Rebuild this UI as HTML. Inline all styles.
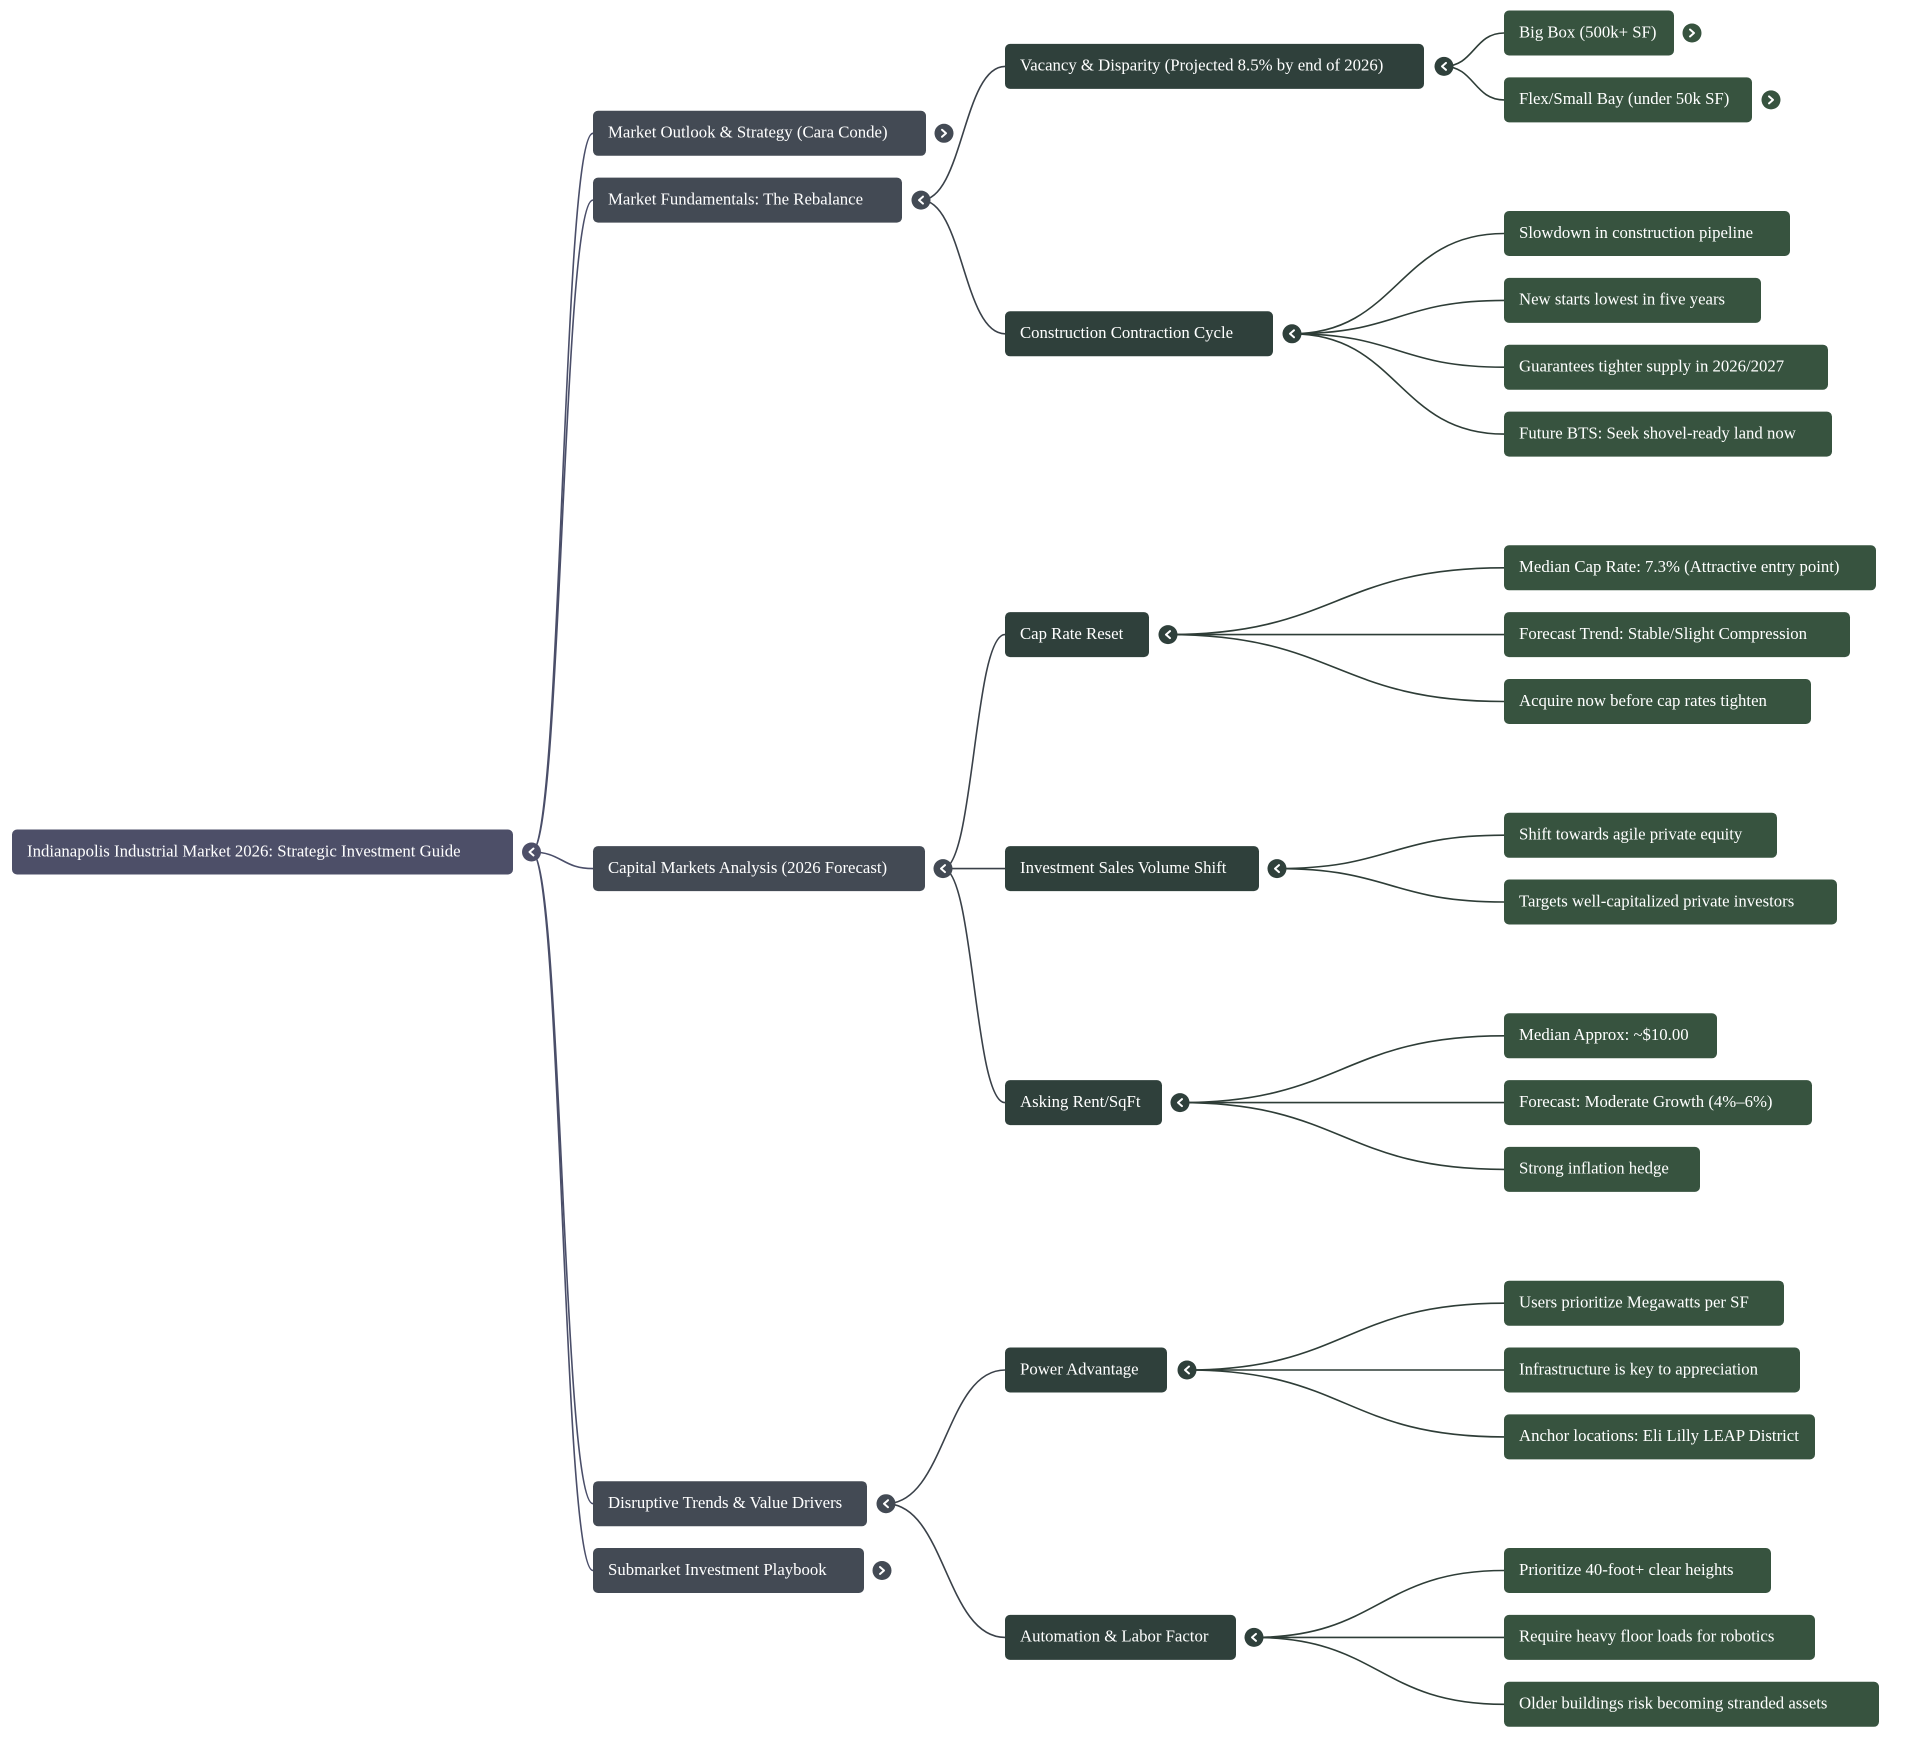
<!DOCTYPE html>
<html>
<head>
<meta charset="utf-8">
<style>
  html,body{margin:0;padding:0;background:#ffffff;}
  body{width:1920px;height:1738px;overflow:hidden;}
  svg{display:block;}
  text{font-family:"Liberation Serif","Times New Roman",serif;font-size:16.75px;fill:#ffffff;}
  .l0{fill:none;stroke:#4a4e69;stroke-width:1.6;}
  .l1{fill:none;stroke:#3a4149;stroke-width:1.6;}
  .l2{fill:none;stroke:#2e3d37;stroke-width:1.6;}
  .chev{fill:none;stroke:#ffffff;stroke-width:2;stroke-linecap:round;stroke-linejoin:round;}
</style>
</head>
<body>
<svg width="1920" height="1738" viewBox="0 0 1920 1738" xmlns="http://www.w3.org/2000/svg">
  <!-- Links root -> level 1 -->
  <path class="l0" d="M531.5 852 C562 852,562 133.3,593 133.3"/>
  <path class="l0" d="M531.5 852 C562 852,562 200.1,593 200.1"/>
  <path class="l0" d="M531.5 852 C562 852,562 868.6,593 868.6"/>
  <path class="l0" d="M531.5 852 C562 852,562 1503.7,593 1503.7"/>
  <path class="l0" d="M531.5 852 C562 852,562 1570.5,593 1570.5"/>

  <!-- Links level 1 -> level 2 -->
  <path class="l1" d="M921 200.1 C963 200.1,963 66.4,1005 66.4"/>
  <path class="l1" d="M921 200.1 C963 200.1,963 333.8,1005 333.8"/>
  <path class="l1" d="M943 868.6 C974 868.6,974 634.6,1005 634.6"/>
  <path class="l1" d="M943 868.6 C974 868.6,974 868.6,1005 868.6"/>
  <path class="l1" d="M943 868.6 C974 868.6,974 1102.6,1005 1102.6"/>
  <path class="l1" d="M886 1503.7 C945.5 1503.7,945.5 1370,1005 1370"/>
  <path class="l1" d="M886 1503.7 C945.5 1503.7,945.5 1637.4,1005 1637.4"/>

  <!-- Links level 2 -> level 3 -->
  <path class="l2" d="M1444 66.4 C1474 66.4,1474 33,1504 33"/>
  <path class="l2" d="M1444 66.4 C1474 66.4,1474 99.9,1504 99.9"/>

  <path class="l2" d="M1292 333.8 C1398 333.8,1398 233.5,1504 233.5"/>
  <path class="l2" d="M1292 333.8 C1398 333.8,1398 300.4,1504 300.4"/>
  <path class="l2" d="M1292 333.8 C1398 333.8,1398 367.2,1504 367.2"/>
  <path class="l2" d="M1292 333.8 C1398 333.8,1398 434.1,1504 434.1"/>

  <path class="l2" d="M1168 634.6 C1336 634.6,1336 567.8,1504 567.8"/>
  <path class="l2" d="M1168 634.6 C1336 634.6,1336 634.6,1504 634.6"/>
  <path class="l2" d="M1168 634.6 C1336 634.6,1336 701.5,1504 701.5"/>

  <path class="l2" d="M1277 868.6 C1390.5 868.6,1390.5 835.2,1504 835.2"/>
  <path class="l2" d="M1277 868.6 C1390.5 868.6,1390.5 902,1504 902"/>

  <path class="l2" d="M1180 1102.6 C1342 1102.6,1342 1035.8,1504 1035.8"/>
  <path class="l2" d="M1180 1102.6 C1342 1102.6,1342 1102.6,1504 1102.6"/>
  <path class="l2" d="M1180 1102.6 C1342 1102.6,1342 1169.4,1504 1169.4"/>

  <path class="l2" d="M1187 1370 C1345.5 1370,1345.5 1303.2,1504 1303.2"/>
  <path class="l2" d="M1187 1370 C1345.5 1370,1345.5 1370,1504 1370"/>
  <path class="l2" d="M1187 1370 C1345.5 1370,1345.5 1436.9,1504 1436.9"/>

  <path class="l2" d="M1254 1637.4 C1379 1637.4,1379 1570.5,1504 1570.5"/>
  <path class="l2" d="M1254 1637.4 C1379 1637.4,1379 1637.4,1504 1637.4"/>
  <path class="l2" d="M1254 1637.4 C1379 1637.4,1379 1704.3,1504 1704.3"/>

  <!-- Root -->
  <rect x="12" y="829.5" width="501" height="45" rx="5" fill="#4d4f68"/>
  <text x="27" y="856.3">Indianapolis Industrial Market 2026: Strategic Investment Guide</text>
  <circle cx="531.5" cy="852" r="9.5" fill="#4d4f68"/>
  <polyline class="chev" points="533.5,848.5 529.5,852 533.5,855.5"/>

  <!-- Level 1 -->
  <rect x="593" y="110.8" width="333" height="45" rx="5" fill="#434a54"/>
  <text x="608" y="137.6">Market Outlook &amp; Strategy (Cara Conde)</text>
  <circle cx="944" cy="133.3" r="9.5" fill="#434a54"/>
  <polyline class="chev" points="942,129.8 946,133.3 942,136.8"/>

  <rect x="593" y="177.6" width="309" height="45" rx="5" fill="#434a54"/>
  <text x="608" y="204.4">Market Fundamentals: The Rebalance</text>
  <circle cx="921" cy="200.1" r="9.5" fill="#434a54"/>
  <polyline class="chev" points="923,196.6 919,200.1 923,203.6"/>

  <rect x="593" y="846.1" width="332" height="45" rx="5" fill="#434a54"/>
  <text x="608" y="872.9">Capital Markets Analysis (2026 Forecast)</text>
  <circle cx="943" cy="868.6" r="9.5" fill="#434a54"/>
  <polyline class="chev" points="945,865.1 941,868.6 945,872.1"/>

  <rect x="593" y="1481.2" width="274" height="45" rx="5" fill="#434a54"/>
  <text x="608" y="1508">Disruptive Trends &amp; Value Drivers</text>
  <circle cx="886" cy="1503.7" r="9.5" fill="#434a54"/>
  <polyline class="chev" points="888,1500.2 884,1503.7 888,1507.2"/>

  <rect x="593" y="1548" width="271" height="45" rx="5" fill="#434a54"/>
  <text x="608" y="1574.8">Submarket Investment Playbook</text>
  <circle cx="882" cy="1570.5" r="9.5" fill="#434a54"/>
  <polyline class="chev" points="880,1567 884,1570.5 880,1574"/>

  <!-- Level 2 -->
  <rect x="1005" y="43.9" width="419" height="45" rx="5" fill="#2f403b"/>
  <text x="1020" y="70.7">Vacancy &amp; Disparity (Projected 8.5% by end of 2026)</text>
  <circle cx="1444" cy="66.4" r="9.5" fill="#2f403b"/>
  <polyline class="chev" points="1446,62.9 1442,66.4 1446,69.9"/>

  <rect x="1005" y="311.3" width="268" height="45" rx="5" fill="#2f403b"/>
  <text x="1020" y="338.1">Construction Contraction Cycle</text>
  <circle cx="1292" cy="333.8" r="9.5" fill="#2f403b"/>
  <polyline class="chev" points="1294,330.3 1290,333.8 1294,337.3"/>

  <rect x="1005" y="612.1" width="144" height="45" rx="5" fill="#2f403b"/>
  <text x="1020" y="638.9">Cap Rate Reset</text>
  <circle cx="1168" cy="634.6" r="9.5" fill="#2f403b"/>
  <polyline class="chev" points="1170,631.1 1166,634.6 1170,638.1"/>

  <rect x="1005" y="846.1" width="254" height="45" rx="5" fill="#2f403b"/>
  <text x="1020" y="872.9">Investment Sales Volume Shift</text>
  <circle cx="1277" cy="868.6" r="9.5" fill="#2f403b"/>
  <polyline class="chev" points="1279,865.1 1275,868.6 1279,872.1"/>

  <rect x="1005" y="1080.1" width="157" height="45" rx="5" fill="#2f403b"/>
  <text x="1020" y="1106.9">Asking Rent/SqFt</text>
  <circle cx="1180" cy="1102.6" r="9.5" fill="#2f403b"/>
  <polyline class="chev" points="1182,1099.1 1178,1102.6 1182,1106.1"/>

  <rect x="1005" y="1347.5" width="162" height="45" rx="5" fill="#2f403b"/>
  <text x="1020" y="1374.3">Power Advantage</text>
  <circle cx="1187" cy="1370" r="9.5" fill="#2f403b"/>
  <polyline class="chev" points="1189,1366.5 1185,1370 1189,1373.5"/>

  <rect x="1005" y="1614.9" width="231" height="45" rx="5" fill="#2f403b"/>
  <text x="1020" y="1641.7">Automation &amp; Labor Factor</text>
  <circle cx="1254" cy="1637.4" r="9.5" fill="#2f403b"/>
  <polyline class="chev" points="1256,1633.9 1252,1637.4 1256,1640.9"/>

  <!-- Level 3 -->
  <g fill="#37533f">
    <rect x="1504" y="10.5" width="170" height="45" rx="5"/>
    <rect x="1504" y="77.4" width="248" height="45" rx="5"/>
    <rect x="1504" y="211" width="286" height="45" rx="5"/>
    <rect x="1504" y="277.9" width="257" height="45" rx="5"/>
    <rect x="1504" y="344.7" width="324" height="45" rx="5"/>
    <rect x="1504" y="411.6" width="328" height="45" rx="5"/>
    <rect x="1504" y="545.3" width="372" height="45" rx="5"/>
    <rect x="1504" y="612.1" width="346" height="45" rx="5"/>
    <rect x="1504" y="679" width="307" height="45" rx="5"/>
    <rect x="1504" y="812.7" width="273" height="45" rx="5"/>
    <rect x="1504" y="879.5" width="333" height="45" rx="5"/>
    <rect x="1504" y="1013.3" width="213" height="45" rx="5"/>
    <rect x="1504" y="1080.1" width="308" height="45" rx="5"/>
    <rect x="1504" y="1146.9" width="196" height="45" rx="5"/>
    <rect x="1504" y="1280.7" width="280" height="45" rx="5"/>
    <rect x="1504" y="1347.5" width="296" height="45" rx="5"/>
    <rect x="1504" y="1414.4" width="311" height="45" rx="5"/>
    <rect x="1504" y="1548" width="267" height="45" rx="5"/>
    <rect x="1504" y="1614.9" width="311" height="45" rx="5"/>
    <rect x="1504" y="1681.8" width="375" height="45" rx="5"/>
  </g>
  <text x="1519" y="37.3">Big Box (500k+ SF)</text>
  <text x="1519" y="104.2">Flex/Small Bay (under 50k SF)</text>
  <text x="1519" y="237.8">Slowdown in construction pipeline</text>
  <text x="1519" y="304.7">New starts lowest in five years</text>
  <text x="1519" y="371.5">Guarantees tighter supply in 2026/2027</text>
  <text x="1519" y="438.4">Future BTS: Seek shovel-ready land now</text>
  <text x="1519" y="572.1">Median Cap Rate: 7.3% (Attractive entry point)</text>
  <text x="1519" y="638.9">Forecast Trend: Stable/Slight Compression</text>
  <text x="1519" y="705.8">Acquire now before cap rates tighten</text>
  <text x="1519" y="839.5">Shift towards agile private equity</text>
  <text x="1519" y="906.3">Targets well-capitalized private investors</text>
  <text x="1519" y="1040.1">Median Approx: ~$10.00</text>
  <text x="1519" y="1106.9">Forecast: Moderate Growth (4%–6%)</text>
  <text x="1519" y="1173.7">Strong inflation hedge</text>
  <text x="1519" y="1307.5">Users prioritize Megawatts per SF</text>
  <text x="1519" y="1374.3">Infrastructure is key to appreciation</text>
  <text x="1519" y="1441.2">Anchor locations: Eli Lilly LEAP District</text>
  <text x="1519" y="1574.8">Prioritize 40-foot+ clear heights</text>
  <text x="1519" y="1641.7">Require heavy floor loads for robotics</text>
  <text x="1519" y="1708.6">Older buildings risk becoming stranded assets</text>

  <!-- Collapsed toggles on level 3 -->
  <circle cx="1692" cy="33" r="9.5" fill="#37533f"/>
  <polyline class="chev" points="1690,29.5 1694,33 1690,36.5"/>
  <circle cx="1771" cy="99.9" r="9.5" fill="#37533f"/>
  <polyline class="chev" points="1769,96.4 1773,99.9 1769,103.4"/>
</svg>
</body>
</html>
